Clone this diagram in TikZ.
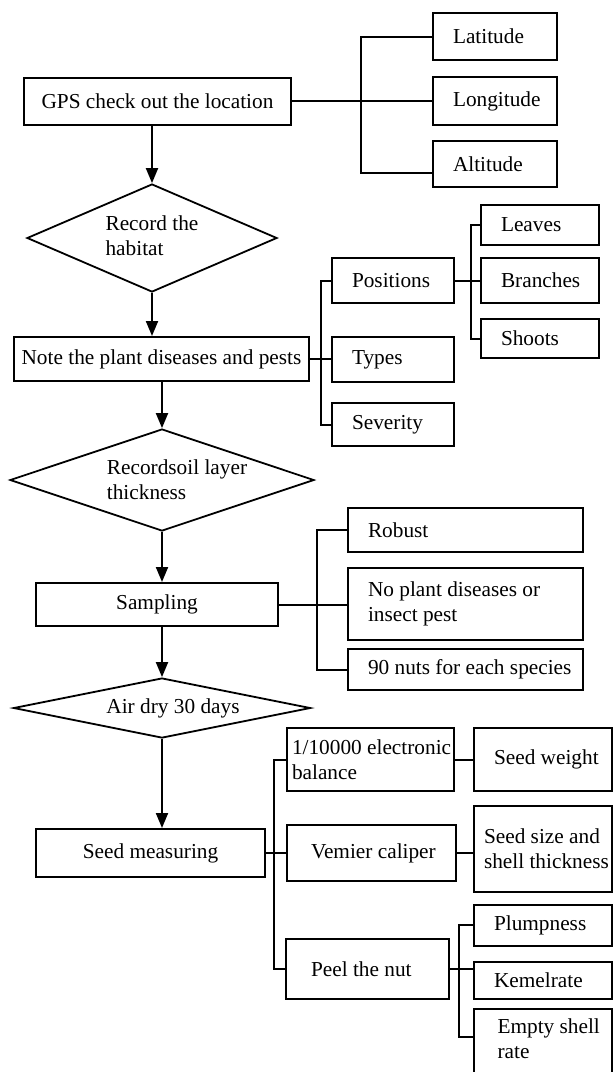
\documentclass[tikz,border=0pt]{standalone}
\usepackage{fontspec}
\setmainfont{Liberation Serif}
\usetikzlibrary{shapes.geometric,arrows.meta,calc}
\begin{document}
\begin{tikzpicture}[x=1pt,y=-1pt,
  every node/.style={font=\fontsize{21.3}{25}\selectfont,
    execute at begin node={\spaceskip=0pt\relax\xspaceskip=0pt\relax}},
  box/.style={draw, line width=2pt, rectangle, inner sep=0pt, align=center},
  lb/.style n args={2}{box, align=left, inner xsep=#1, text width=#2},
  dia/.style={draw, line width=1.8pt, diamond, inner sep=0pt},
  ln/.style={line width=2pt},
  arr/.style={line width=2pt, -{Triangle[length=15pt,width=12pt]}}
]
\useasboundingbox (0,0) rectangle (613,1072);

% ---- GPS
\node[box, minimum width=267pt, minimum height=47pt] (gps) at (157.5,101) {GPS check out the location};
\node[lb={20pt}{84pt}, minimum height=47pt] (lat) at (495,36.5) {\mbox{Latitude}};
\node[lb={20pt}{84pt}, minimum height=48pt] (lon) at (495,101) {\mbox{Longitude}};
\node[lb={20pt}{84pt}, minimum height=46pt] (alt) at (495,164) {\mbox{Altitude}};
\coordinate (b1) at (361,0);
\coordinate (altc) at ($(alt.north west)+(0,33)$);
\draw[ln] (gps.east) -- (lon.west);
\draw[ln] (lat.west) -- (lat.west -| b1) -- (altc -| b1) -- (altc);

% ---- Diamond 1
\node[dia, minimum width=250pt, minimum height=108pt] (d1) at (152,238) {};
\node[align=left] (t1) at (152,236) {Record the\\habitat};
\draw[arr] (d1.north |- gps.south) -- (d1.north);

% ---- Note
\node[box, minimum width=295pt, minimum height=44pt] (note) at (161.5,359) {Note the plant diseases and pests};
\draw[arr] (d1.south) -- (d1.south |- note.north);

\node[lb={20pt}{82pt}, minimum height=45pt] (pos) at (393,280.5) {\mbox{Positions}};
\node[lb={20pt}{82pt}, minimum height=45pt] (types) at (393,359.5) {\mbox{Types}};
\node[lb={20pt}{82pt}, minimum height=43pt] (sev) at (393,424.5) {\mbox{Severity}};
\coordinate (b2) at (321,0);
\draw[ln] (note.east) -- (note.east -| types.west);
\draw[ln] (pos.west) -- (pos.west -| b2) -- (sev.west -| b2) -- (sev.west);

\node[lb={20pt}{78pt}, minimum height=40pt] (leaves) at (540,225) {\mbox{Leaves}};
\node[lb={20pt}{78pt}, minimum height=45pt] (branches) at (540,280.5) {\mbox{Branches}};
\node[lb={20pt}{78pt}, minimum height=39pt] (shoots) at (540,338.5) {\mbox{Shoots}};
\coordinate (b3) at (471,0);
\draw[ln] (pos.east) -- (pos.east -| branches.west);
\draw[ln] (leaves.west) -- (leaves.west -| b3) -- (shoots.west -| b3) -- (shoots.west);

% ---- Diamond 2
\node[dia, minimum width=304pt, minimum height=102pt] (d2) at (162,480) {};
\node[align=left] (t2) at (177,480) {Recordsoil layer\\thickness};
\draw[arr] (d2.north |- note.south) -- (d2.north);

% ---- Sampling
\node[box, minimum width=242pt, minimum height=43pt] (samp) at (157,604.5) {Sampling};
\draw[arr] (d2.south) -- (d2.south |- samp.north);
\node[lb={20pt}{195pt}, minimum height=44pt] (robust) at (465.5,530) {\mbox{Robust}};
\node[lb={20pt}{195pt}, minimum height=72pt] (noplant) at (465.5,604) {\mbox{No plant diseases or}\\\mbox{insect pest}};
\node[lb={20pt}{195pt}, minimum height=41pt] (nuts) at (465.5,669.5) {\mbox{90 nuts for each species}};
\coordinate (b4) at (317,0);
\draw[ln] (samp.east) -- (samp.east -| noplant.west);
\draw[ln] (robust.west) -- (robust.west -| b4) -- (nuts.west -| b4) -- (nuts.west);

% ---- Diamond 3
\node[dia, minimum width=297pt, minimum height=60pt] (d3) at (162,708) {};
\node (t3) at (173,708) {Air dry 30 days};
\draw[arr] (d3.north |- samp.south) -- (d3.north);

% ---- Seed measuring
\node[box, minimum width=229pt, minimum height=48pt] (seedm) at (150.5,853) {Seed measuring};
\draw[arr] (d3.south) -- (d3.south |- seedm.north);

\node[lb={5pt}{157pt}, minimum height=63pt] (bal) at (370.5,759.5) {\mbox{1/10000 electronic}\\\mbox{balance}};
\node[lb={20pt}{98pt}, minimum height=63pt] (sw) at (543,759.5) {\mbox{Seed weight}};
\node[lb={24pt}{121pt}, minimum height=56pt] (vem) at (371.5,853) {\mbox{Vemier caliper}};
\node[lb={10pt}{118pt}, minimum height=86pt] (ssize) at (543,849) {\mbox{Seed size and}\\\mbox{shell thickness}};
\node[lb={25pt}{113pt}, minimum height=60pt] (peel) at (367.5,969) {\mbox{Peel the nut}};
\coordinate (b5) at (274,0);
\draw[ln] (seedm.east) -- (vem.west);
\draw[ln] (bal.west) -- (bal.west -| b5) -- (peel.west -| b5) -- (peel.west);
\draw[ln] (bal.east) -- (sw.west);
\draw[ln] (vem.east) -- (vem.east -| ssize.west);

\node[lb={20pt}{98pt}, minimum height=41pt] (plump) at (543,925) {\mbox{Plumpness}};
\node[lb={20pt}{98pt}, minimum height=37pt] (kem) at (543,980) {\mbox{Kemelrate}};
\node[box, minimum width=138pt, minimum height=72pt] (empty) at (543,1045) {};
\node[align=left, anchor=west] (emptyt) at (494,1039) {Empty shell\\rate};
\coordinate (b6) at (459,0);
\coordinate (emc) at ($(empty.north west)+(0,29)$);
\draw[ln] (peel.east) -- (peel.east -| kem.west);
\draw[ln] (plump.west) -- (plump.west -| b6) -- (emc -| b6) -- (emc);
\end{tikzpicture}
\end{document}
